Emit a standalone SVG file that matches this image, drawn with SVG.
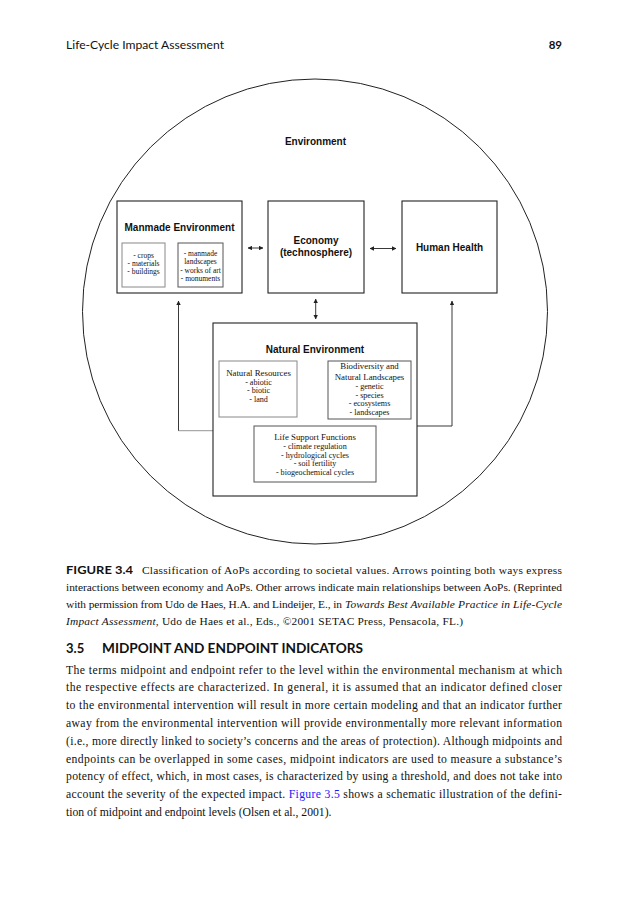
<svg xmlns="http://www.w3.org/2000/svg" width="629" height="900" viewBox="0 0 629 900">
<defs>
<marker id="ah" viewBox="0 0 6 6" refX="5.5" refY="3" markerWidth="4.5" markerHeight="4.5" orient="auto-start-reverse" markerUnits="userSpaceOnUse">
<path d="M0,0 L6,3 L0,6 Z" fill="#222"/>
</marker>
</defs>
<style>
.box{fill:#fff;stroke:#222;stroke-width:1.1}
.gbox{fill:#fff;stroke:#888;stroke-width:1}
.mbox{fill:#fff;stroke:#555;stroke-width:1}
.ttl{font-family:"Liberation Sans",Arial,sans-serif;font-weight:bold;font-size:10px;fill:#111;text-anchor:middle}
.st{font-family:"Liberation Serif","Times New Roman",serif;font-size:8.8px;fill:#111;text-anchor:middle}
.li{font-family:"Liberation Serif","Times New Roman",serif;font-size:8.1px;fill:#111;text-anchor:middle}
.lm{font-family:"Liberation Serif","Times New Roman",serif;font-size:7.5px;fill:#111;text-anchor:middle}
.con{fill:none;stroke:#222;stroke-width:0.9}
.hdr{font-family:Lato,"Open Sans",sans-serif;font-size:11.5px;fill:#111}
.cap{font-family:"Liberation Serif","Times New Roman",serif;font-size:11.4px;fill:#111}
.body{font-family:"Liberation Serif","Times New Roman",serif;font-size:11.7px;fill:#111}
.sec{font-family:Lato,"Open Sans",sans-serif;font-weight:bold;font-size:13px;fill:#111}
</style>
<rect width="629" height="900" fill="#fff"/>
<g id="page-header">
<text class="hdr" x="66" y="49" textLength="158" lengthAdjust="spacingAndGlyphs">Life-Cycle Impact Assessment</text>
<text class="hdr" x="562" y="49" text-anchor="end" font-weight="bold">89</text>
</g>
<g id="environment">
<circle cx="315" cy="311.5" r="232.5" fill="none" stroke="#222" stroke-width="1"/>
<text class="ttl" x="315.5" y="145">Environment</text>
</g>
<g id="connectors">
<line class="con" x1="248" y1="248" x2="263" y2="248" marker-start="url(#ah)" marker-end="url(#ah)"/>
<line class="con" x1="370" y1="248.5" x2="396" y2="248.5" marker-start="url(#ah)" marker-end="url(#ah)"/>
<line class="con" x1="315.7" y1="299" x2="315.7" y2="319" marker-start="url(#ah)" marker-end="url(#ah)"/>
<path d="M213,430.7 H178.5" fill="none" stroke="#aaa" stroke-width="1.2"/>
<path class="con" d="M178.5,430.7 V301" marker-end="url(#ah)"/>
<path class="con" d="M417,426 H452 V301" marker-end="url(#ah)"/>
</g>
<g id="manmade">
<rect class="box" x="117" y="201" width="125" height="92"/>
<text class="ttl" x="179.5" y="230.5">Manmade Environment</text>
<rect class="gbox" x="122" y="243" width="43" height="44"/>
<text class="lm" x="143.5" y="258">- crops</text>
<text class="lm" x="143.5" y="266">- materials</text>
<text class="lm" x="143.5" y="274">- buildings</text>
<rect class="mbox" x="178" y="243" width="45" height="44"/>
<text class="lm" x="200.5" y="256">- manmade</text>
<text class="lm" x="200.5" y="264">landscapes</text>
<text class="lm" x="200.5" y="272.5">- works of art</text>
<text class="lm" x="200.5" y="281">- monuments</text>
</g>
<g id="economy">
<rect class="box" x="268" y="201" width="96" height="92"/>
<text class="ttl" x="316" y="243.5">Economy</text>
<text class="ttl" x="316" y="255.5">(technosphere)</text>
</g>
<g id="human-health">
<rect class="box" x="402" y="201" width="95" height="92"/>
<text class="ttl" x="449.5" y="251">Human Health</text>
</g>
<g id="natural-environment">
<rect class="box" x="213" y="323" width="204" height="173"/>
<text class="ttl" x="315" y="353">Natural Environment</text>
<rect class="gbox" x="219" y="361" width="78" height="56"/>
<text class="st" x="258.5" y="376">Natural Resources</text>
<text class="li" x="258.5" y="384.5">- abiotic</text>
<text class="li" x="258.5" y="393">- biotic</text>
<text class="li" x="258.5" y="401.5">- land</text>
<rect class="mbox" x="328" y="361" width="83" height="58"/>
<text class="st" x="369.5" y="369">Biodiversity and</text>
<text class="st" x="369.5" y="380">Natural Landscapes</text>
<text class="li" x="369.5" y="389">- genetic</text>
<text class="li" x="369.5" y="397.5">- species</text>
<text class="li" x="369.5" y="406">- ecosystems</text>
<text class="li" x="369.5" y="415">- landscapes</text>
<rect class="mbox" x="254" y="426" width="122" height="56"/>
<text class="st" x="315" y="440">Life Support Functions</text>
<text class="li" x="315" y="449">- climate regulation</text>
<text class="li" x="315" y="457.5">- hydrological cycles</text>
<text class="li" x="315" y="466">- soil fertility</text>
<text class="li" x="315" y="474.5">- biogeochemical cycles</text>
</g>
<g id="caption">
<text x="66" y="574" font-family="Lato,'Open Sans',sans-serif" font-weight="bold" font-size="11" fill="#111" textLength="67" lengthAdjust="spacingAndGlyphs">FIGURE 3.4</text>
<text class="cap" x="142" y="574" textLength="420" lengthAdjust="spacing">Classification of AoPs according to societal values. Arrows pointing both ways express</text>
<text class="cap" x="66" y="591" textLength="496" lengthAdjust="spacing">interactions between economy and AoPs. Other arrows indicate main relationships between AoPs. (Reprinted</text>
<text class="cap" x="66" y="608" textLength="276" lengthAdjust="spacing">with permission from Udo de Haes, H.A. and Lindeijer, E., in</text>
<text class="cap" x="345" y="608" font-style="italic" textLength="217" lengthAdjust="spacing">Towards Best Available Practice in Life-Cycle</text>
<text class="cap" x="66" y="625" textLength="397" lengthAdjust="spacing"><tspan font-style="italic">Impact Assessment</tspan>, Udo de Haes et al., Eds., ©2001 SETAC Press, Pensacola, FL.)</text>
</g>
<g id="section">
<text class="sec" x="66" y="653">3.5</text>
<text class="sec" x="102" y="653" textLength="261" lengthAdjust="spacingAndGlyphs">MIDPOINT AND ENDPOINT INDICATORS</text>
<text class="body" x="66" y="673.5" textLength="496" lengthAdjust="spacing">The terms midpoint and endpoint refer to the level within the environmental mechanism at which</text>
<text class="body" x="66" y="691.3" textLength="496" lengthAdjust="spacing">the respective effects are characterized. In general, it is assumed that an indicator defined closer</text>
<text class="body" x="66" y="709.1" textLength="496" lengthAdjust="spacing">to the environmental intervention will result in more certain modeling and that an indicator further</text>
<text class="body" x="66" y="726.9" textLength="496" lengthAdjust="spacing">away from the environmental intervention will provide environmentally more relevant information</text>
<text class="body" x="66" y="744.7" textLength="496" lengthAdjust="spacing">(i.e., more directly linked to society’s concerns and the areas of protection). Although midpoints and</text>
<text class="body" x="66" y="762.5" textLength="496" lengthAdjust="spacing">endpoints can be overlapped in some cases, midpoint indicators are used to measure a substance’s</text>
<text class="body" x="66" y="780.3" textLength="496" lengthAdjust="spacing">potency of effect, which, in most cases, is characterized by using a threshold, and does not take into</text>
<text class="body" x="66" y="798.1" textLength="496" lengthAdjust="spacing">account the severity of the expected impact. <tspan fill="#1a1aff">Figure 3.5</tspan> shows a schematic illustration of the defini-</text>
<text class="body" x="66" y="815.9">tion of midpoint and endpoint levels (Olsen et al., 2001).</text>
</g>
</svg>
